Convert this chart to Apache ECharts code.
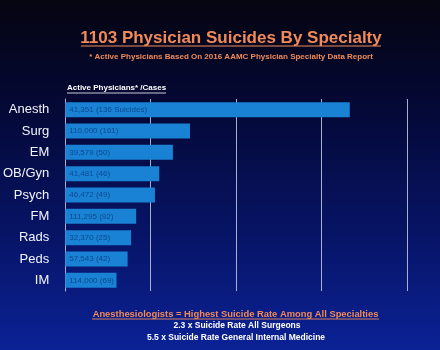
<!DOCTYPE html>
<html>
<head>
    <meta charset="utf-8" />
    <title>1103 Physician Suicides By Specialty</title>
    <script src="https://cdn.jsdelivr.net/npm/echarts@6/dist/echarts.min.js"></script>
    <style>
        html, body { margin: 0; padding: 0; background: #050514; }
        #main { width: 440px; height: 350px; }
    </style>
</head>
<body>
<div id="main"></div>
<script>
    // specialties, top to bottom
    var specialties = ['Anesth', 'Surg', 'EM', 'OB/Gyn', 'Psych', 'FM', 'Rads', 'Peds', 'IM'];
    // bar length (suicides per 100,000 active physicians)
    var rates = [333, 146, 126, 110, 105, 83, 77, 73, 60];
    // text written inside the bars
    var physicians = ['41,351', '110,000', '39,579', '41,481', '46,472', '111,295', '32,370', '57,543', '114,000'];
    var cases = ['136 Suicides', '161', '50', '46', '49', '92', '25', '42', '69'];
    var xTicks = [0, 100, 200, 300, 400];

    var orange = '#f28a58';
    var font = '"Liberation Sans", Arial, sans-serif';

    var myChart = echarts.init(document.getElementById('main'));

    // underlined text helper (zrender text has no underline)
    function uline(x, y, w, color, width) {
        return {
            type: 'line',
            shape: { x1: x - w / 2, y1: y, x2: x + w / 2, y2: y },
            style: { stroke: color, lineWidth: width || 1 }
        };
    }

    var option = {
        backgroundColor: {
            type: 'linear', x: 0, y: 0, x2: 0, y2: 1,
            colorStops: [
                { offset: 0, color: '#050510' },
                { offset: 0.3, color: '#040835' },
                { offset: 0.7, color: '#07156a' },
                { offset: 1, color: '#0b2296' }
            ]
        },
        textStyle: { fontFamily: font },
        grid: { left: 64, right: 33, top: 99, bottom: 59 },
        xAxis: {
            type: 'value',
            min: xTicks[0],
            max: xTicks[xTicks.length - 1],
            interval: 100,
            axisLabel: { show: false },
            axisTick: { show: false },
            axisLine: { show: false },
            splitLine: { lineStyle: { color: '#a8b0d0', width: 1 } }
        },
        yAxis: {
            type: 'category',
            inverse: true,
            data: specialties,
            axisTick: { show: false },
            axisLine: { lineStyle: { color: '#a8b0d0', width: 1 } },
            axisLabel: { color: '#f2f4fa', fontSize: 13, margin: 16, fontFamily: font }
        },
        series: [{
            type: 'bar',
            data: rates,
            barWidth: 15,
            itemStyle: { color: '#1a82d4' },
            label: {
                show: true,
                position: 'insideLeft',
                offset: [-1, 0],
                fontSize: 8,
                color: '#0a4a92',
                fontFamily: font,
                formatter: function (p) {
                    return physicians[p.dataIndex] + ' (' + cases[p.dataIndex] + ')';
                }
            }
        }],
        graphic: [
            { type: 'text', x: 231, y: 38, style: { text: '1103 Physician Suicides By Specialty', fill: orange, font: 'bold 17px ' + font, textAlign: 'center', textVerticalAlign: 'middle' } },
            uline(231, 46, 300, orange, 1.2),
            { type: 'text', x: 231, y: 57, style: { text: '* Active Physicians Based On 2016 AAMC Physician Specialty Data Report', fill: orange, font: 'bold 8px ' + font, textAlign: 'center', textVerticalAlign: 'middle' } },
            { type: 'text', x: 67, y: 88, style: { text: 'Active Physicians* /Cases', fill: '#ffffff', font: 'bold 8px ' + font, textAlign: 'left', textVerticalAlign: 'middle' } },
            { type: 'line', shape: { x1: 67, y1: 93, x2: 166, y2: 93 }, style: { stroke: '#ffffff', lineWidth: 0.8 } },
            { type: 'text', x: 235.5, y: 314, style: { text: 'Anesthesiologists = Highest Suicide Rate Among All Specialties', fill: orange, font: 'bold 9.4px ' + font, textAlign: 'center', textVerticalAlign: 'middle' } },
            uline(235.5, 319, 287, orange, 0.9),
            { type: 'text', x: 237, y: 326, style: { text: '2.3 x Suicide Rate All Surgeons', fill: '#ffffff', font: 'bold 8.5px ' + font, textAlign: 'center', textVerticalAlign: 'middle' } },
            { type: 'text', x: 236, y: 337.5, style: { text: '5.5 x Suicide Rate General Internal Medicine', fill: '#ffffff', font: 'bold 8.5px ' + font, textAlign: 'center', textVerticalAlign: 'middle' } }
        ]
    };
    myChart.setOption(option);
</script>
</body>
</html>
